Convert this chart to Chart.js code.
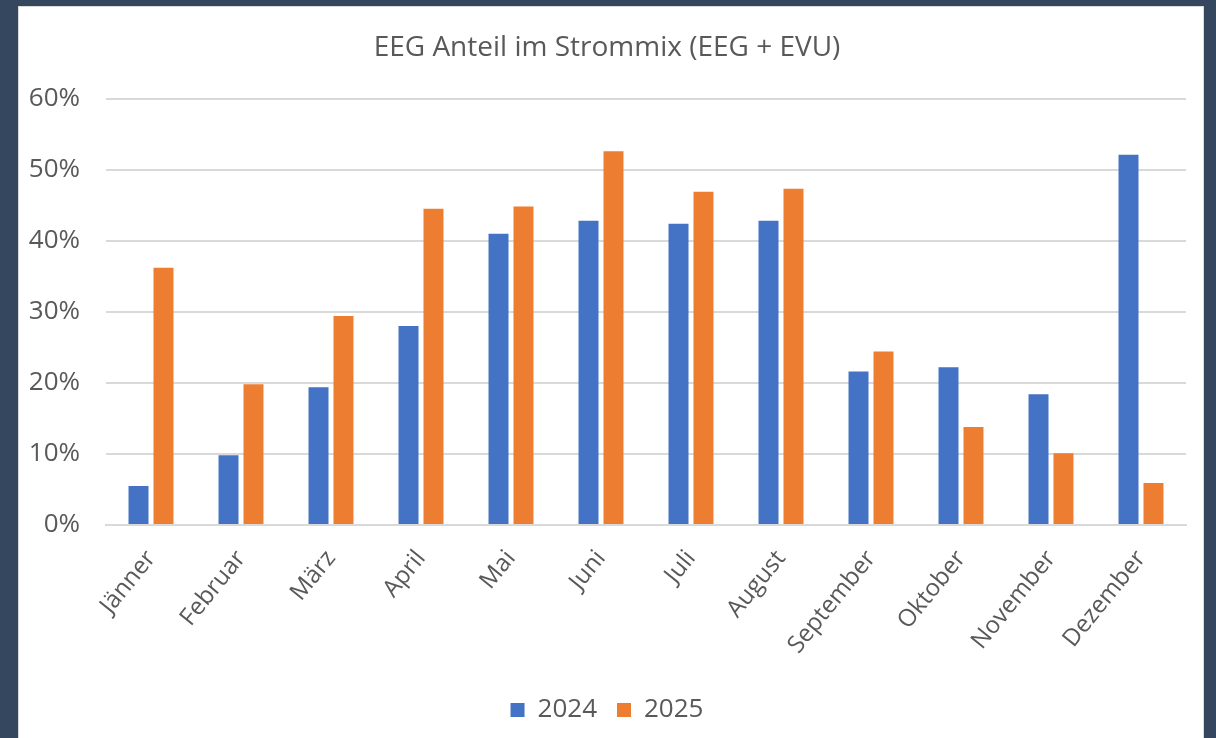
<!DOCTYPE html>
<html>
<head>
<meta charset="utf-8">
<script src="https://cdn.jsdelivr.net/npm/chart.js@4"></script>
<style>
  html, body { margin: 0; padding: 0; background: #34475e; width: 1216px; height: 738px; overflow: hidden; }
  #panel { position: absolute; left: 18px; top: 6px; width: 1186px; height: 732px; background: #fff; border-left: 1px solid #d9d9d9; border-top: 1px solid #d9d9d9; border-right: 1px solid #d9d9d9; box-sizing: border-box; }
  #wrap { position: absolute; left: 1px; top: 1px; width: 1184px; height: 731px; }
</style>
</head>
<body>
<div id="panel"><div id="wrap"><canvas id="chart"></canvas></div></div>
<script>
const months = ['Jänner', 'Februar', 'März', 'April', 'Mai', 'Juni', 'Juli', 'August', 'September', 'Oktober', 'November', 'Dezember'];
const values2024 = [5.5, 9.8, 19.4, 28.0, 41.0, 42.8, 42.4, 42.8, 21.6, 22.2, 18.4, 52.1];
const values2025 = [36.2, 19.8, 29.4, 44.5, 44.8, 52.6, 46.9, 47.3, 24.4, 13.8, 10.1, 5.9];
const yTicks = [0, 10, 20, 30, 40, 50, 60];

const font = '"Open Sans", "Noto Sans", sans-serif';
const grey = '#595959';

const ctx = document.getElementById('chart').getContext('2d');
new Chart(ctx, {
    type: 'bar',
    data: {
        labels: months,
        datasets: [
            { label: '2024', data: values2024, backgroundColor: '#4472c4' },
            { label: '2025', data: values2025, backgroundColor: '#ed7d31' }
        ]
    },
    options: {
        responsive: true,
        maintainAspectRatio: false,
        animation: false,
        layout: { padding: { top: 14, left: 8, right: 18, bottom: 6 } },
        datasets: { bar: { categoryPercentage: 0.555, barPercentage: 0.8 } },
        plugins: {
            title: {
                display: true,
                text: 'EEG Anteil im Strommix (EEG + EVU)',
                color: grey,
                font: { family: font, size: 28, weight: 'normal' },
                padding: { top: 9, bottom: 34 }
            },
            legend: {
                position: 'bottom',
                labels: {
                    color: grey,
                    font: { family: font, size: 26 },
                    boxWidth: 14,
                    boxHeight: 14,
                    padding: 20
                }
            },
            tooltip: { enabled: false }
        },
        scales: {
            x: {
                grid: { display: false },
                border: { color: '#d9d9d9', width: 2 },
                ticks: {
                    color: grey,
                    font: { family: font, size: 24 },
                    minRotation: 51,
                    maxRotation: 51,
                    padding: 12
                },
                afterFit: (scale) => {
                    scale.height = 152;
                    scale.paddingLeft = 0;
                    scale.paddingRight = 0;
                }
            },
            y: {
                min: 0,
                max: 60,
                afterBuildTicks: (scale) => { scale.ticks = yTicks.map(v => ({ value: v })); },
                grid: { color: '#d9d9d9', lineWidth: 2, drawTicks: false },
                border: { display: false },
                ticks: {
                    color: grey,
                    font: { family: font, size: 26 },
                    padding: 26,
                    callback: (v) => v + '%'
                },
                afterFit: (scale) => { scale.width = 78; }
            }
        }
    }
});
</script>
</body>
</html>
